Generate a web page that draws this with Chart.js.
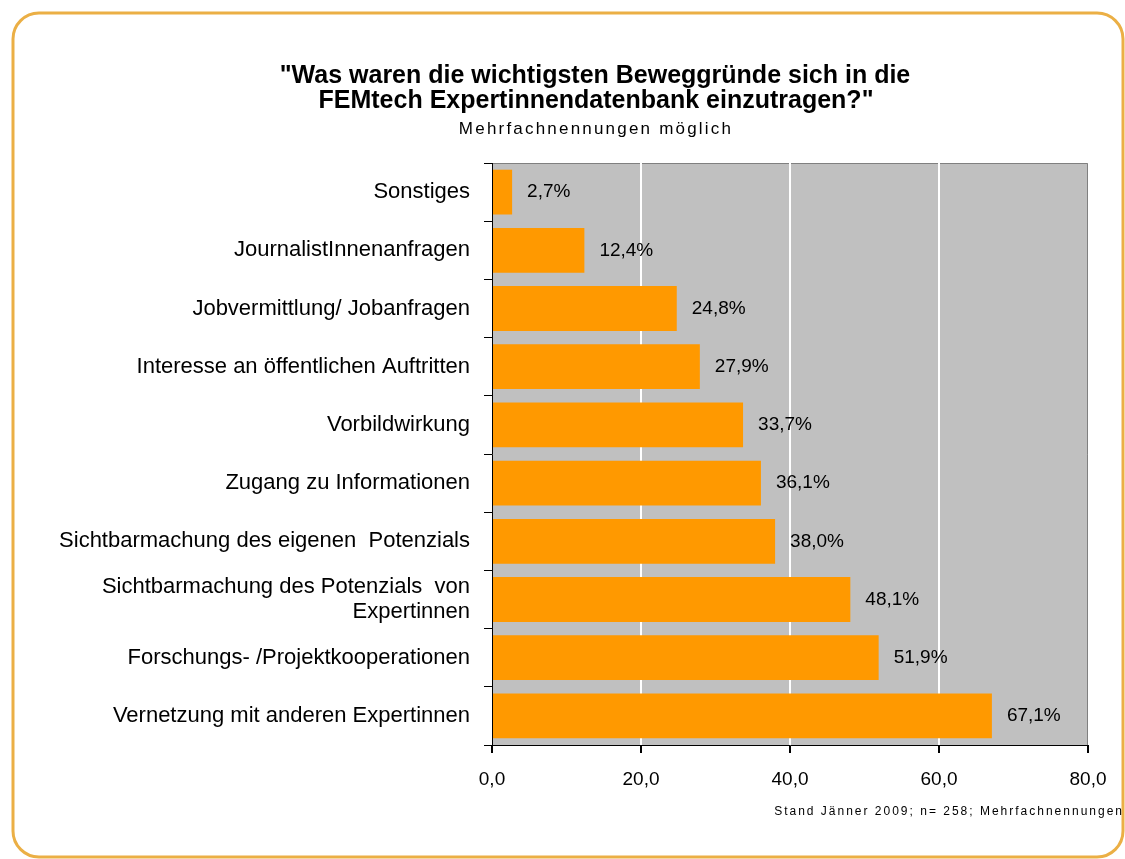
<!DOCTYPE html>
<html>
<head>
<meta charset="utf-8">
<script src="https://cdn.jsdelivr.net/npm/chart.js@4"></script>
<style>
  html, body { margin: 0; padding: 0; background: #fff; }
  #wrap { width: 1125px; height: 859px; }
</style>
</head>
<body>
<div id="wrap"><canvas id="motive-chart" width="1125" height="859"></canvas></div>
<script>
// Beweggründe (von oben nach unten)
const categories = [
  'Sonstiges',
  'JournalistInnenanfragen',
  'Jobvermittlung/ Jobanfragen',
  'Interesse an öffentlichen Auftritten',
  'Vorbildwirkung',
  'Zugang zu Informationen',
  'Sichtbarmachung des eigenen  Potenzials',
  ['Sichtbarmachung des Potenzials  von', 'Expertinnen'],
  'Forschungs- /Projektkooperationen',
  'Vernetzung mit anderen Expertinnen'
];
const percentages = [2.7, 12.4, 24.8, 27.9, 33.7, 36.1, 38.0, 48.1, 51.9, 67.1];
const xTicks = [0, 20, 40, 60, 80];

const titleLines = ['"Was waren die wichtigsten Beweggründe sich in die', 'FEMtech Expertinnendatenbank einzutragen?"'];
const subtitleText = 'Mehrfachnennungen möglich';
const footnote = 'Stand Jänner 2009; n= 258; Mehrfachnennungen';

const FONT = '"Liberation Sans", Arial, sans-serif';
const fmt = v => v.toFixed(1).replace('.', ',');

// Rahmen, grauer Hintergrund, Überschrift, Werte und Fußnote
const decor = {
  id: 'decor',
  beforeDraw(chart) {
    const { ctx, chartArea: a } = chart;
    ctx.save();
    ctx.fillStyle = '#fff';
    ctx.fillRect(0, 0, chart.width, chart.height);
    ctx.strokeStyle = '#EBAF45';
    ctx.lineWidth = 3;
    ctx.beginPath();
    ctx.roundRect(13, 13, 1110, 844, 26);
    ctx.stroke();
    ctx.fillStyle = '#C0C0C0';
    ctx.fillRect(a.left, a.top, a.right - a.left, a.bottom - a.top);
    ctx.strokeStyle = '#808080';
    ctx.lineWidth = 1;
    ctx.beginPath();
    ctx.moveTo(a.left, a.top + 0.5);
    ctx.lineTo(a.right - 0.5, a.top + 0.5);
    ctx.lineTo(a.right - 0.5, a.bottom);
    ctx.stroke();

    // Überschrift
    ctx.fillStyle = '#000';
    ctx.textAlign = 'center';
    ctx.textBaseline = 'middle';
    ctx.font = 'bold 25px ' + FONT;
    ctx.fillText(titleLines[0], 595, 76);
    ctx.fillText(titleLines[1], 596, 101);
    ctx.font = '17px ' + FONT;
    if ('letterSpacing' in ctx) ctx.letterSpacing = '2.2px';
    ctx.fillText(subtitleText, 596, 129);
    if ('letterSpacing' in ctx) ctx.letterSpacing = '0px';
    ctx.restore();
  },
  afterDatasetsDraw(chart) {
    const { ctx } = chart;
    const meta = chart.getDatasetMeta(0);
    ctx.save();
    ctx.font = '19px ' + FONT;
    ctx.fillStyle = '#000';
    ctx.textBaseline = 'middle';
    ctx.textAlign = 'left';
    meta.data.forEach((bar, i) => {
      ctx.fillText(fmt(percentages[i]) + '%', bar.x + 15, bar.y);
    });
    ctx.font = '12px ' + FONT;
    if ('letterSpacing' in ctx) ctx.letterSpacing = '2px';
    ctx.textAlign = 'right';
    ctx.fillText(footnote, 1124, 812);
    ctx.restore();
  }
};

new Chart(document.getElementById('motive-chart'), {
  type: 'bar',
  data: {
    labels: categories,
    datasets: [{
      data: percentages,
      backgroundColor: '#FF9900',
      borderWidth: 0,
      categoryPercentage: 1,
      barPercentage: 0.77
    }]
  },
  options: {
    indexAxis: 'y',
    responsive: false,
    animation: false,
    layout: { padding: { left: 0, right: 37, top: 163, bottom: 0 } },
    plugins: {
      legend: { display: false },
      tooltip: { enabled: false },
      title: { display: false }
    },
    scales: {
      x: {
        min: 0,
        max: 80,
        afterBuildTicks(scale) { scale.ticks = xTicks.map(v => ({ value: v })); },
        afterFit(scale) { scale.height = 114; },
        ticks: {
          color: '#000',
          padding: 15,
          font: { family: FONT, size: 19 },
          callback: v => fmt(v)
        },
        grid: {
          color: c => (c.tick && (c.tick.value === 0 || c.tick.value === 80)) ? 'rgba(0,0,0,0)' : '#fff',
          tickColor: '#000',
          tickLength: 8,
          lineWidth: 2
        },
        border: { display: true, color: '#000', width: 1 }
      },
      y: {
        afterFit(scale) { scale.width = 492; },
        ticks: {
          color: '#000',
          padding: 14,
          font: { family: FONT, size: 22, lineHeight: 1.1 }
        },
        grid: {
          drawOnChartArea: false,
          offset: true,
          tickColor: '#000',
          tickLength: 8
        },
        border: { display: true, color: '#000', width: 1 }
      }
    }
  },
  plugins: [decor]
});
</script>
</body>
</html>
